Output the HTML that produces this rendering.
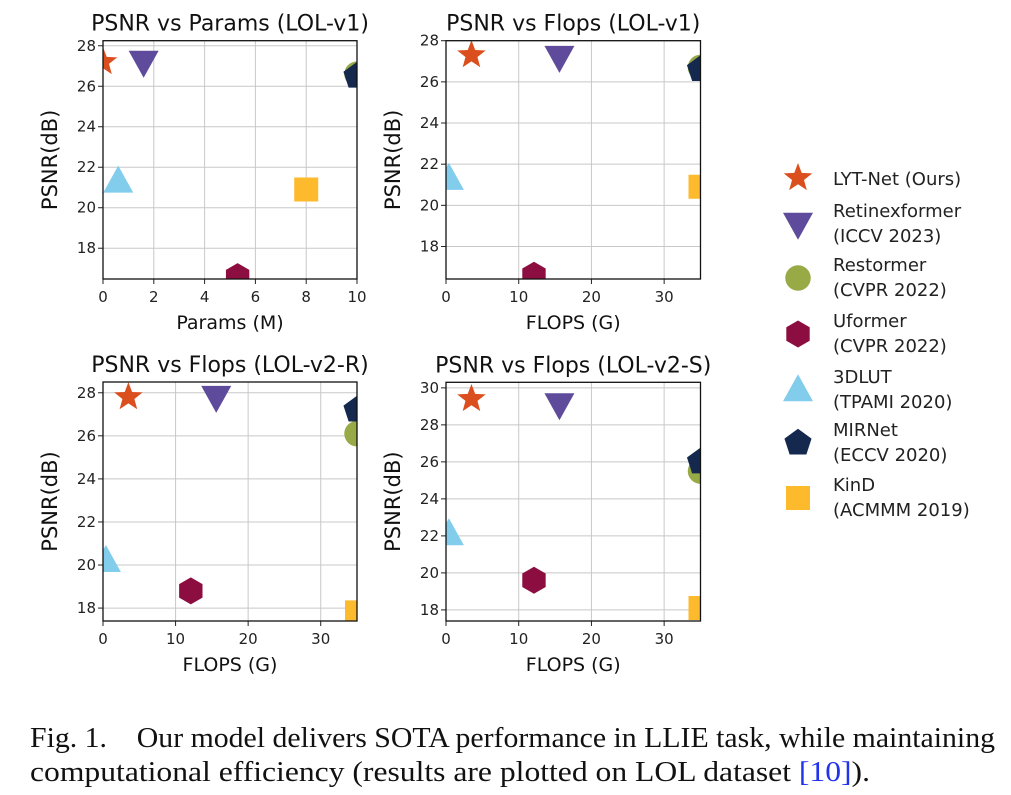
<!DOCTYPE html>
<html><head><meta charset="utf-8"><style>
body{margin:0;background:#fff;}
svg{display:block;font-family:"DejaVu Sans","Liberation Sans",sans-serif;}
</style></head><body>
<svg id="fig" width="1011" height="795" viewBox="0 0 1011 795" xmlns="http://www.w3.org/2000/svg">
<text x="30" y="747" font-family="Liberation Serif, serif" font-size="28" fill="#111" textLength="965" lengthAdjust="spacingAndGlyphs">Fig. 1.&#160;&#160;&#160; Our model delivers SOTA performance in LLIE task, while maintaining</text>
<text x="30" y="781" font-family="Liberation Serif, serif" font-size="28" fill="#111" textLength="840" lengthAdjust="spacingAndGlyphs">computational efficiency (results are plotted on LOL dataset <tspan fill="#2233ee">[10]</tspan>).</text>
</svg>
<script>
const models = ["LYT-Net (Ours)|","Retinexformer|(ICCV 2023)","Restormer|(CVPR 2022)","Uformer|(CVPR 2022)","3DLUT|(TPAMI 2020)","MIRNet|(ECCV 2020)","KinD|(ACMMM 2019)"];
const shapes = ["star","tridown","circle","hexagon","triup","pentagon","square"];
const colors = ["#db4f1f","#5f4b9b","#98aa46","#8c0d3f","#82ccec","#15294f","#fcba2c"];
// Data per panel
const params_v1 = [0, 1.6, 10, 5.3, 0.6, 10, 8];
const psnr_v1 = [27.2, 27.2, 26.6, 16.6, 21.3, 26.5, 20.9];
const flops = [3.5, 15.6, 35, 12.1, 0.4, 35, 35];
const psnr_v1_f = [27.3, 27.2, 26.7, 16.6, 21.3, 26.6, 20.9];
const psnr_v2r = [27.8, 27.8, 26.1, 18.8, 20.2, 27.2, 17.8];
const psnr_v2s = [29.4, 29.1, 25.5, 19.6, 22.1, 26.0, 18.1];
const xticks_params = [0,2,4,6,8,10];
const xticks_flops = [0,10,20,30];
const yticks_a = [18,20,22,24,26,28];
const yticks_b = [18,20,22,24,26,28,30];

const svg = document.getElementById('fig');
const NS = "http://www.w3.org/2000/svg";
function mk(tag, attrs, parent){const e=document.createElementNS(NS,tag);for(const k in attrs)e.setAttribute(k,attrs[k]);(parent||svg).appendChild(e);return e;}

function markerPath(shape, cx, cy, r){
  let pts=[];
  if(shape==="star"){for(let i=0;i<10;i++){const a=-Math.PI/2+i*Math.PI/5;const rr=i%2?r*0.42:r;pts.push([cx+rr*Math.cos(a),cy+rr*Math.sin(a)]);}}
  else if(shape==="tridown"){pts=[[cx-r,cy-r*0.75],[cx+r,cy-r*0.75],[cx,cy+r*1.05]];}
  else if(shape==="triup"){pts=[[cx-r,cy+r*0.75],[cx+r,cy+r*0.75],[cx,cy-r*1.05]];}
  else if(shape==="hexagon"){for(let i=0;i<6;i++){const a=-Math.PI/2+i*Math.PI/3;pts.push([cx+r*0.9*Math.cos(a),cy+r*0.9*Math.sin(a)]);}}
  else if(shape==="pentagon"){for(let i=0;i<5;i++){const a=-Math.PI/2+i*2*Math.PI/5;pts.push([cx+r*0.95*Math.cos(a),cy+r*0.95*Math.sin(a)]);}}
  else if(shape==="square"){const s=r*0.8;pts=[[cx-s,cy-s],[cx+s,cy-s],[cx+s,cy+s],[cx-s,cy+s]];}
  return pts;
}
function drawMarker(shape,cx,cy,r,color,parent,clip){
  let e;
  if(shape==="circle"){e=mk('circle',{cx:cx,cy:cy,r:r*0.85,fill:color},parent);}
  else{const p=markerPath(shape,cx,cy,r);e=mk('polygon',{points:p.map(q=>q.join(',')).join(' '),fill:color},parent);}
  if(clip)e.setAttribute('clip-path','url(#'+clip+')');
  return e;
}

function panel(id, title, L, R, T, B, xmin, xmax, ymin, ymax, xticks, yticks, xs, ys, xlabel){
  const g=mk('g',{});
  
  
  const sx=v=>L+(v-xmin)/(xmax-xmin)*(R-L);
  const sy=v=>B-(v-ymin)/(ymax-ymin)*(B-T);
  const cp=mk('clipPath',{id:'clip-'+id},g);
  mk('rect',{x:L,y:T,width:R-L,height:B-T},cp);
  for(const t of xticks){
    const l=mk('line',{x1:sx(t),x2:sx(t),y1:T,y2:B,stroke:"#c8c8c8","stroke-width":1},g);
    
    
    mk('line',{x1:sx(t),x2:sx(t),y1:B,y2:B+5,stroke:"#222","stroke-width":1},g);
    const tx=mk('text',{x:sx(t),y:B+23,"font-size":15,"text-anchor":"middle",fill:"#222"},g);
    
    
    tx.textContent=t;
  }
  for(const t of yticks){
    const l=mk('line',{x1:L,x2:R,y1:sy(t),y2:sy(t),stroke:"#c8c8c8","stroke-width":1},g);
    
    
    mk('line',{x1:L-5,x2:L,y1:sy(t),y2:sy(t),stroke:"#222","stroke-width":1},g);
    const tx=mk('text',{x:L-7,y:sy(t)+5,"font-size":15,"text-anchor":"end",fill:"#222"},g);
    
    
    tx.textContent=t;
  }
  for(let i=0;i<xs.length;i++){
    const m=drawMarker(shapes[i],sx(xs[i]),sy(ys[i]),15,colors[i],g,'clip-'+id);
    
    
  }
  mk('rect',{x:L,y:T,width:R-L,height:B-T,fill:"none",stroke:"#111","stroke-width":1.3},g);
  const tt=mk('text',{x:(L+R)/2,y:T-10,"font-size":22,"text-anchor":"middle",fill:"#111"},g);
  
  
  tt.textContent=title;
  const xl=mk('text',{x:(L+R)/2,y:B+50,"font-size":19,"text-anchor":"middle",fill:"#111"},g);
  
  
  xl.textContent=xlabel;
  const yx=L-46, yy=(T+B)/2;
  const yl=mk('text',{x:yx,y:yy,"font-size":21,"text-anchor":"middle",fill:"#111",transform:`rotate(-90 ${yx} ${yy})`},g);
  
  
  yl.textContent="PSNR(dB)";
}

panel('panel-params-lolv1','PSNR vs Params (LOL-v1)',103,357,40.7,279,0,10,16.48,28.25,xticks_params,yticks_a,params_v1,psnr_v1,'Params (M)');
panel('panel-flops-lolv1','PSNR vs Flops (LOL-v1)',446,700.5,40.7,279,0,35,16.42,28.0,xticks_flops,yticks_a,flops,psnr_v1_f,'FLOPS (G)');
panel('panel-flops-lolv2r','PSNR vs Flops (LOL-v2-R)',103,357,382,621,0,35,17.4,28.5,xticks_flops,yticks_a,flops,psnr_v2r,'FLOPS (G)');
panel('panel-flops-lolv2s','PSNR vs Flops (LOL-v2-S)',446,700.5,382.3,621,0,35,17.4,30.3,xticks_flops,yticks_b,flops,psnr_v2s,'FLOPS (G)');

const legendY=[178,224,278,334,390,443,498];
const lg=mk('g',{});


for(let i=0;i<models.length;i++){
  const m=drawMarker(shapes[i],798,legendY[i],15,colors[i],lg,null);
  
  
  const parts=models[i].split('|');
  const t=mk('text',{x:833,"font-size":18,fill:"#222"},lg);
  
  
  if(parts[1]===""){t.setAttribute('y',legendY[i]+7);t.textContent=parts[0];}
  else{
    t.setAttribute('y',legendY[i]-7);t.textContent=parts[0];
    const t2=mk('text',{x:833,y:legendY[i]+18,"font-size":18,fill:"#222"},lg);
    
    
    t2.textContent=parts[1];
  }
}
</script>
</body></html>
